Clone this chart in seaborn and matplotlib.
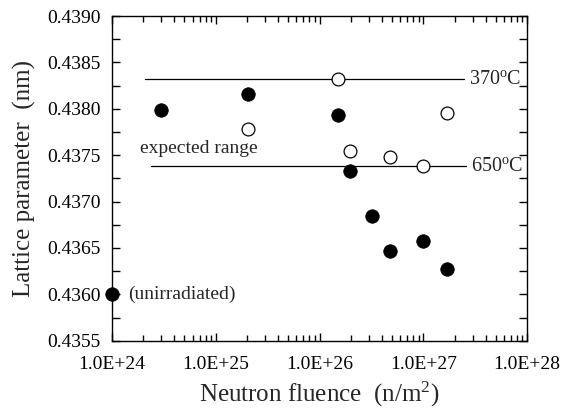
import numpy as np
import pandas as pd
import matplotlib
matplotlib.use("Agg")
import matplotlib.pyplot as plt
import seaborn as sns
from matplotlib.ticker import FuncFormatter, LogLocator, MultipleLocator

sns.set_theme(style="ticks")
plt.rcParams['font.family'] = ['Liberation Serif', 'DejaVu Serif']
plt.rcParams['mathtext.fontset'] = 'custom'
plt.rcParams['mathtext.rm'] = 'Liberation Serif'
plt.rcParams['mathtext.it'] = 'Liberation Serif:italic'

# Data
filled_fluence = [1.0e24, 3.0e24, 2.05e25, 1.5e26, 1.97e26, 3.17e26, 4.76e26, 1.0e27, 1.7e27]
filled_lattice = [0.43600, 0.43799, 0.43816, 0.43793, 0.43733, 0.43684, 0.43647, 0.43658, 0.43627]
open_fluence = [2.05e25, 1.5e26, 1.97e26, 4.76e26, 1.0e27, 1.7e27]
open_lattice = [0.43778, 0.43832, 0.43755, 0.43748, 0.43738, 0.43795]
ref_labels = ["370$^{\\rm o}$C", "650$^{\\rm o}$C"]
ref_values = [0.43832, 0.43738]
ref_start = [2.08e24, 2.38e24]
ref_end = [2.48e27, 2.57e27]

df_f = pd.DataFrame({"fluence": filled_fluence, "lattice": filled_lattice})
df_o = pd.DataFrame({"fluence": open_fluence, "lattice": open_lattice})

fig = plt.figure(figsize=(5.68, 4.11), dpi=100)
ax = fig.add_axes([0.197, 0.171, 0.731, 0.790])

ax.set_xscale("log")
for v, s, e, lab in zip(ref_values, ref_start, ref_end, ref_labels):
    ax.plot([s, e], [v, v], color="black", lw=0.9, zorder=1)
    ax.text(e * 1.12, v, lab, fontsize=14.5, va="center", ha="left")

sns.scatterplot(data=df_f, x="fluence", y="lattice", ax=ax, s=95,
                color="black", edgecolor="black", linewidth=0.5, zorder=3, clip_on=False)
sns.scatterplot(data=df_o, x="fluence", y="lattice", ax=ax, s=85,
                facecolor="white", edgecolor="black", linewidth=0.9, zorder=3, clip_on=False)

ax.text(1.85e24, 0.43757, "expected range", fontsize=14, va="center", ha="left")
ax.text(1.42e24, 0.43600, "(unirradiated)", fontsize=14, va="center", ha="left")

ax.set_xlim(1e24, 1e28)
ax.set_ylim(0.4355, 0.4390)
ax.yaxis.set_major_locator(MultipleLocator(0.0005))
ax.yaxis.set_minor_locator(MultipleLocator(0.00025))
ax.yaxis.set_major_formatter(FuncFormatter(lambda v, p: f"{v:.4f}"))
ax.xaxis.set_major_locator(LogLocator(base=10, numticks=10))
ax.xaxis.set_minor_locator(LogLocator(base=10, subs=np.arange(2, 10), numticks=20))
ax.xaxis.set_major_formatter(FuncFormatter(lambda v, p: f"{v:.1E}"))
ax.xaxis.set_minor_formatter(FuncFormatter(lambda v, p: ""))

ax.tick_params(which="both", direction="in", top=True, right=True, labelsize=14, colors="black")
ax.tick_params(axis="x", which="major", pad=11)
ax.tick_params(axis="y", which="major", pad=8)
ax.tick_params(which="major", length=6, width=1)
ax.tick_params(which="minor", length=4, width=1)
ax.tick_params(axis="y", which="minor", length=6)
for sp in ax.spines.values():
    sp.set_linewidth(1.0)
    sp.set_color("black")

ax.set_xlabel("Neutron fluence  (n/m$^{2}$)", fontsize=18, labelpad=5)
ax.set_ylabel("Lattice parameter  (nm)", fontsize=18, labelpad=8)

fig.savefig("out.png", dpi=100)
